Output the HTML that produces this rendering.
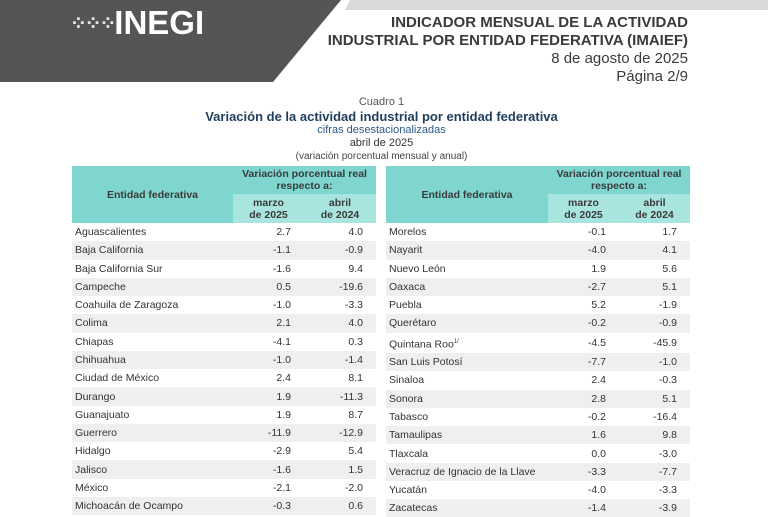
<!DOCTYPE html>
<html><head><meta charset="utf-8"><style>
*{margin:0;padding:0;box-sizing:border-box}
body{width:768px;height:512px;overflow:hidden;background:#fff;font-family:"Liberation Sans",sans-serif;color:#333;position:relative}
.abs{position:absolute}
table{position:absolute;border-collapse:collapse;font-size:10.5px;table-layout:fixed}
td,th{padding:0;overflow:hidden;white-space:nowrap}
th{background:#7fd6cf;font-weight:bold;color:#3a3a3a;text-align:center;font-size:10.5px;line-height:12px}
th.sub{background:#a9e5df}
td{height:18.27px;line-height:18px}
td.n{padding-left:3px}
td.v{text-align:right}
td.m{padding-right:13px}
td.a{padding-right:13px}
tr.g td{background:#efefef}
</style></head><body>
<svg class="abs" style="left:0;top:0" width="768" height="90">
<polygon points="350,0 768,0 768,10 345,10" fill="#d9d9d9"/>
<polygon points="0,0 341,0 273,82 0,82" fill="#555555"/>
</svg>
<div class="abs" style="left:70px;top:4px;color:#fff;font-weight:bold;font-size:33px;letter-spacing:0px">
<span style="font-size:20px;letter-spacing:-2px;vertical-align:4px;opacity:.85">⁘⁘⁘</span>INEGI</div>
<div class="abs" style="right:80px;top:14px;text-align:right;font-weight:bold;font-size:15px;line-height:18px;color:#3a3a3a">INDICADOR MENSUAL DE LA ACTIVIDAD<br>INDUSTRIAL POR ENTIDAD FEDERATIVA (IMAIEF)</div>
<div class="abs" style="right:80px;top:50px;text-align:right;font-size:15px;line-height:18px;color:#3a3a3a">8 de agosto de 2025<br>Página 2/9</div>
<div class="abs" style="left:0;width:768px;top:96px;text-align:center;line-height:13px">
<div style="font-size:11px;color:#555;margin-left:-5px">Cuadro 1</div>
<div style="font-size:13px;font-weight:bold;color:#1f3d5c;line-height:15px;margin-left:-5px">Variación de la actividad industrial por entidad federativa</div>
<div style="font-size:11px;color:#2b5a8a;margin-left:-5px">cifras desestacionalizadas</div>
<div style="font-size:11px;color:#333;margin-left:-5px">abril de 2025</div>
<div style="font-size:10px;color:#444;margin-left:-5px">(variación porcentual mensual y anual)</div>
</div>
<table id="t1" style="left:72px;top:166px;width:304px">
<colgroup><col style="width:161px"><col style="width:71px"><col style="width:72px"></colgroup>
<tr style="height:28px"><th rowspan="2">Entidad federativa</th><th colspan="2">Variación porcentual real<br>respecto a:</th></tr>
<tr style="height:29px"><th class="sub">marzo<br>de 2025</th><th class="sub">abril<br>de 2024</th></tr>
</table>
<table id="t2" style="left:386px;top:166px;width:304px">
<colgroup><col style="width:162px"><col style="width:71px"><col style="width:71px"></colgroup>
<tr style="height:28px"><th rowspan="2">Entidad federativa</th><th colspan="2">Variación porcentual real<br>respecto a:</th></tr>
<tr style="height:29px"><th class="sub">marzo<br>de 2025</th><th class="sub">abril<br>de 2024</th></tr>
</table>
<script>
const statesL=["Aguascalientes","Baja California","Baja California Sur","Campeche","Coahuila de Zaragoza","Colima","Chiapas","Chihuahua","Ciudad de México","Durango","Guanajuato","Guerrero","Hidalgo","Jalisco","México","Michoacán de Ocampo"];
const marzoL=["2.7","-1.1","-1.6","0.5","-1.0","2.1","-4.1","-1.0","2.4","1.9","1.9","-11.9","-2.9","-1.6","-2.1","-0.3"];
const abrilL=["4.0","-0.9","9.4","-19.6","-3.3","4.0","0.3","-1.4","8.1","-11.3","8.7","-12.9","5.4","1.5","-2.0","0.6"];
const statesR=["Morelos","Nayarit","Nuevo León","Oaxaca","Puebla","Querétaro","Quintana Roo<sup style='font-size:6px'>1/</sup>","San Luis Potosí","Sinaloa","Sonora","Tabasco","Tamaulipas","Tlaxcala","Veracruz de Ignacio de la Llave","Yucatán","Zacatecas"];
const marzoR=["-0.1","-4.0","1.9","-2.7","5.2","-0.2","-4.5","-7.7","2.4","2.8","-0.2","1.6","0.0","-3.3","-4.0","-1.4"];
const abrilR=["1.7","4.1","5.6","5.1","-1.9","-0.9","-45.9","-1.0","-0.3","5.1","-16.4","9.8","-3.0","-7.7","-3.3","-3.9"];
function fill(id,s,m,a){
 const t=document.getElementById(id);
 s.forEach((n,i)=>{
  const tr=document.createElement('tr');
  
  
  if(i%2==1)tr.className='g';
  tr.innerHTML="<td class='n'>"+n+"</td><td class='v m'>"+m[i]+"</td><td class='v a'>"+a[i]+"</td>";
  t.appendChild(tr);
 });
}
fill('t1',statesL,marzoL,abrilL);
fill('t2',statesR,marzoR,abrilR);
</script>
</body></html>
